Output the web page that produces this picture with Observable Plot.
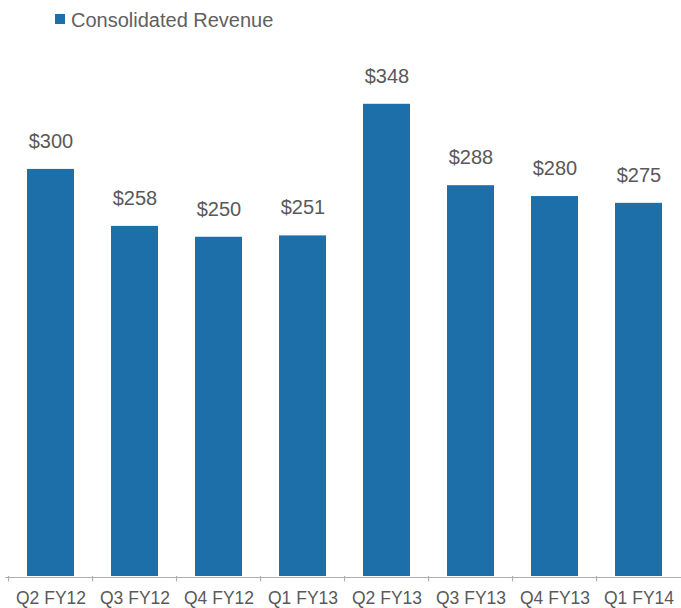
<!DOCTYPE html>
<html>
<head>
<meta charset="utf-8">
<script src="https://cdn.jsdelivr.net/npm/d3@7"></script>
<script src="https://cdn.jsdelivr.net/npm/@observablehq/plot@0.6"></script>
<style>
  html, body { margin: 0; padding: 0; background: #fff; }
  body { width: 681px; height: 608px; overflow: hidden; font-family: "Liberation Sans", Arial, sans-serif; }
  #legend { position: relative; height: 40px; }
  #legend .sw { position: absolute; left: 55px; top: 14px; width: 10px; height: 10px; background: #1d6fa9; }
  #legend .lb { position: absolute; left: 71px; top: 8px; font-size: 20px; line-height: 24px; color: #606060; white-space: nowrap; }
  #chart svg { display: block; }
</style>
</head>
<body>
<div id="legend"><span class="sw"></span><span class="lb">Consolidated Revenue</span></div>
<div id="chart"></div>
<script>
const quarters = ["Q2 FY12", "Q3 FY12", "Q4 FY12", "Q1 FY13", "Q2 FY13", "Q3 FY13", "Q4 FY13", "Q1 FY14"];
const revenue = [300, 258, 250, 251, 348, 288, 280, 275];
const seriesName = "Consolidated Revenue";

const data = quarters.map((q, i) => ({quarter: q, value: revenue[i]}));
const barColor = "#1d6fa9";
const textColor = "#595959";

const step = (684 - 5) / quarters.length;

const chart = Plot.plot({
  width: 681,
  height: 568,
  marginTop: 0,
  marginBottom: 32,
  marginLeft: 5,
  marginRight: 0,
  style: {fontFamily: '"Liberation Sans", Arial, sans-serif', background: "#fff"},
  x: {domain: quarters, range: [5, 684], paddingInner: 0.446, paddingOuter: 0.223, axis: null},
  y: {domain: [0, 395], axis: null},
  marks: [
    Plot.barY(data, {x: "quarter", y: "value", fill: barColor}),
    Plot.ruleY([0], {stroke: "#b0b0b0", strokeWidth: 1.2, dy: 1}),
    Plot.ruleX(quarters, {x: d => d, y1: 0, y2: -4, dx: -step / 2, stroke: "#b0b0b0", strokeWidth: 1.2}),
    Plot.text(data, {x: "quarter", y: "value", text: d => "$" + d.value, dy: -28, fontSize: 20, fill: textColor}),
    Plot.axisX({tickSize: 0, tickPadding: 15, fontSize: 17.5, color: textColor, label: null})
  ]
});
document.getElementById("chart").appendChild(chart);
</script>
</body>
</html>
